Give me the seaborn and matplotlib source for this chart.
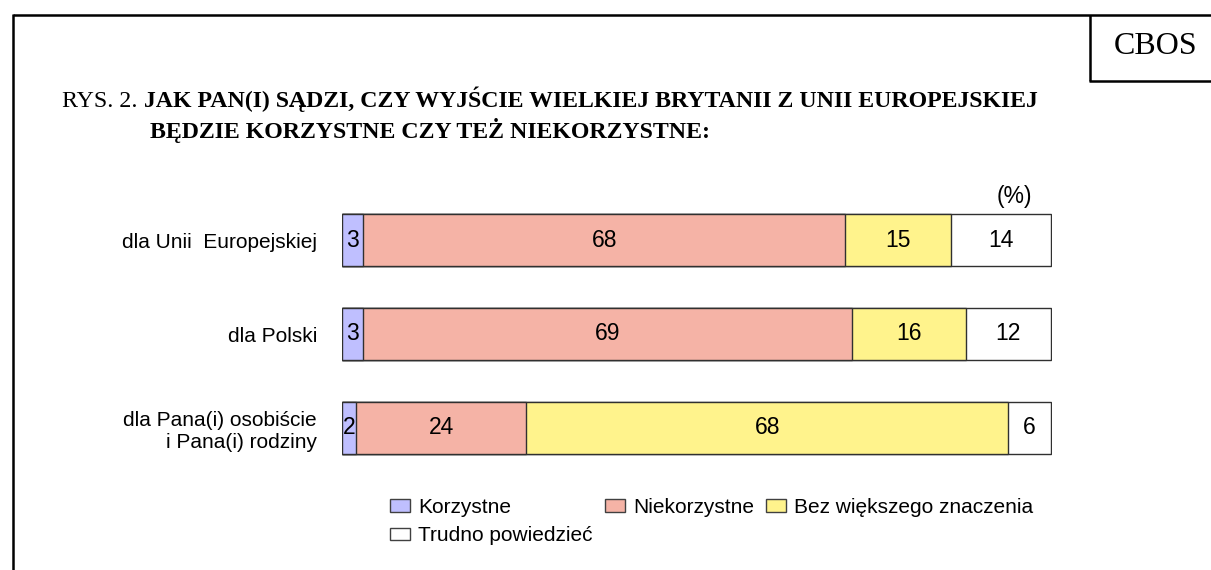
import numpy as np
import pandas as pd
import seaborn as sns
import matplotlib.pyplot as plt
from matplotlib.patches import Patch

sns.set_style("white")
plt.rcParams['font.family'] = ['Liberation Sans', 'DejaVu Sans']
plt.rcParams['text.color'] = 'black'
plt.rcParams['ytick.color'] = 'black'

# data
categories = ["dla Unii  Europejskiej", "dla Polski", "dla Pana(i) osobiście\ni Pana(i) rodziny"]
series = ["Korzystne", "Niekorzystne", "Bez większego znaczenia", "Trudno powiedzieć"]
korzystne = [3, 3, 2]
niekorzystne = [68, 69, 24]
bez_znaczenia = [15, 16, 68]
trudno = [14, 12, 6]
colors = ["#BFBFFF", "#F5B3A6", "#FFF38C", "#FFFFFF"]

df = pd.DataFrame({"kat": categories, series[0]: korzystne, series[1]: niekorzystne,
                   series[2]: bez_znaczenia, series[3]: trudno})
cum = df[series].cumsum(axis=1)

W, H = 1211, 570
fig = plt.figure(figsize=(W / 100, H / 100), dpi=100)

# background axes in pixel coords for the frame
bg = fig.add_axes([0, 0, 1, 1])
bg.set_xlim(0, W)
bg.set_ylim(H, 0)
bg.axis('off')
lw = 1.8
bg.plot([13, W], [15, 15], color='black', lw=lw, solid_capstyle='butt')
bg.plot([13, 13], [14, H], color='black', lw=lw, solid_capstyle='butt')
bg.plot([1090, 1090], [15, 81], color='black', lw=lw, solid_capstyle='butt')
bg.plot([1089, W], [81, 81], color='black', lw=lw, solid_capstyle='butt')
bg.text(1156, 47, "CBOS", family='Liberation Serif', fontsize=23, ha='center', va='center')

# title
t1 = bg.text(62, 107, "RYS. 2. ", family='Liberation Serif', fontsize=17.2, ha='left', va='baseline')
fig.canvas.draw()
x_end = t1.get_window_extent().x1
bg.text(x_end, 107, "JAK PAN(I) SĄDZI, CZY WYJŚCIE WIELKIEJ BRYTANII Z UNII EUROPEJSKIEJ",
        family='Liberation Serif', fontsize=17.2, fontweight='bold', ha='left', va='baseline')
bg.text(150, 138, "BĘDZIE KORZYSTNE CZY TEŻ NIEKORZYSTNE:",
        family='Liberation Serif', fontsize=17.2, fontweight='bold', ha='left', va='baseline')
bg.text(1032, 197, "(%)", fontsize=16.5, ha='right', va='center')

# bar axes
ax = fig.add_axes([342 / W, 1 - 475 / H, 710 / W, 282 / H])
ax.set_facecolor('none')
for i in range(len(series) - 1, -1, -1):
    sns.barplot(x=cum[series[i]], y=df["kat"], orient='h', color=colors[i], width=0.553,
                saturation=1, edgecolor='#303030', linewidth=1, errorbar=None, ax=ax)

for r in range(len(categories)):
    left = 0
    for s in series:
        v = df.loc[r, s]
        ax.text(left + v / 2, r, str(v), ha='center', va='center', fontsize=16.5)
        left += v

ax.set_xlim(0, 100.2)
ax.set_ylim(2.5, -0.5)
ax.set_xlabel("")
ax.set_ylabel("")
ax.set_xticks([])
ax.tick_params(axis='y', length=0, pad=18, labelsize=15)
sns.despine(ax=ax, left=True, bottom=True)

handles = [Patch(facecolor=c, edgecolor='#404040', linewidth=1) for c in colors]
order = [0, 3, 1, 2]
fig.legend([handles[k] for k in order], [series[k] for k in order], ncol=3,
           loc='upper left', bbox_to_anchor=(390 / W, 1 - 498 / H), frameon=False,
           fontsize=15, handlelength=0.96, handleheight=0.56, handletextpad=0.38,
           columnspacing=0.6, borderpad=0, borderaxespad=0, labelspacing=0.45)

fig.savefig("out.png", dpi=100)
